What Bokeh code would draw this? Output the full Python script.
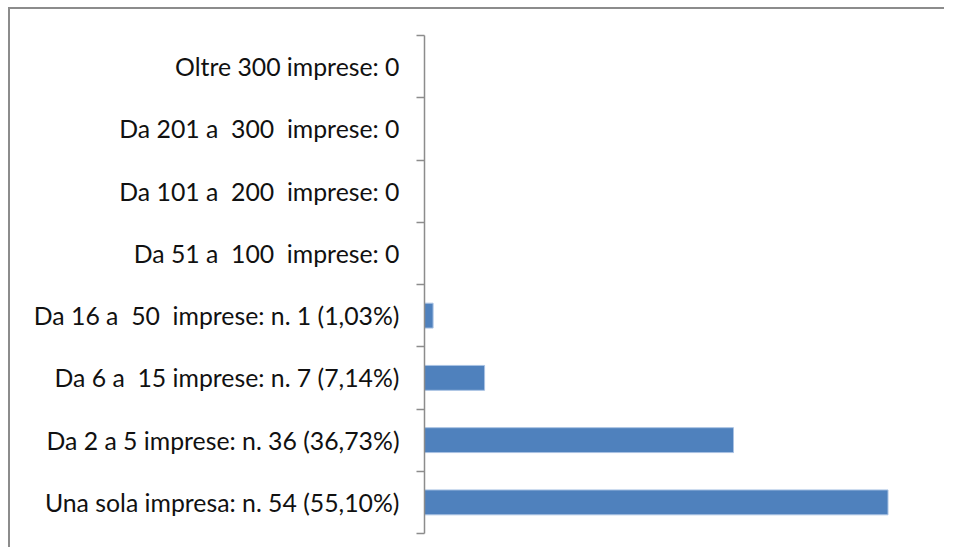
from bokeh.plotting import figure
from bokeh.models import Range1d, FixedTicker, InlineStyleSheet
from bokeh.embed import file_html
from bokeh.resources import INLINE

# Data (bottom to top)
categories = [
    "Una sola impresa: n. 54 (55,10%)",
    "Da 2 a 5 imprese: n. 36 (36,73%)",
    "Da 6 a\u00a0 15 imprese: n. 7 (7,14%)",
    "Da 16 a\u00a0 50\u00a0 imprese: n. 1 (1,03%)",
    "Da 51 a\u00a0 100\u00a0 imprese: 0",
    "Da 101 a\u00a0 200\u00a0 imprese: 0",
    "Da 201 a\u00a0 300\u00a0 imprese: 0",
    "Oltre 300 imprese: 0",
]
values = [54, 36, 7, 1, 0, 0, 0, 0]

n = len(categories)
centers = [i + 0.5 for i in range(n)]

p = figure(width=936, height=540, output_backend="svg", toolbar_location=None,
           x_range=Range1d(0, 60), y_range=Range1d(0, n),
           min_border_left=414, min_border_top=26, min_border_bottom=16, min_border_right=7)
p.stylesheets = [InlineStyleSheet(css=":host { border-style: solid; border-color: #8c8c8c; "
                                      "border-width: 2px 0px 0px 2px; outline: none; box-shadow: none; "
                                      "margin-left: 8px; margin-top: 7px; }")]

p.hbar(y=centers, right=values, left=0, height=0.4, fill_color="#4F81BD",
       line_color="#a9c2e3", line_width=1)

p.xaxis.visible = False
p.xgrid.visible = False
p.ygrid.visible = False
p.outline_line_color = None
p.border_fill_color = "white"

ax = p.yaxis[0]
ax.ticker = FixedTicker(ticks=centers, minor_ticks=list(range(n + 1)))
ax.major_label_overrides = {c: lab for c, lab in zip(centers, categories)}
ax.major_tick_line_color = None
ax.minor_tick_line_color = "#8c8c8c"
ax.minor_tick_out = 8
ax.minor_tick_in = 0
ax.axis_line_color = "#8c8c8c"
ax.axis_line_width = 1.5
ax.minor_tick_line_width = 1.5
ax.major_label_text_font = "Lato"
ax.major_label_text_font_size = "24.8px"
ax.major_label_text_color = "#111111"
ax.major_label_standoff = 17

open("out.html", "w").write(file_html(p, INLINE))
